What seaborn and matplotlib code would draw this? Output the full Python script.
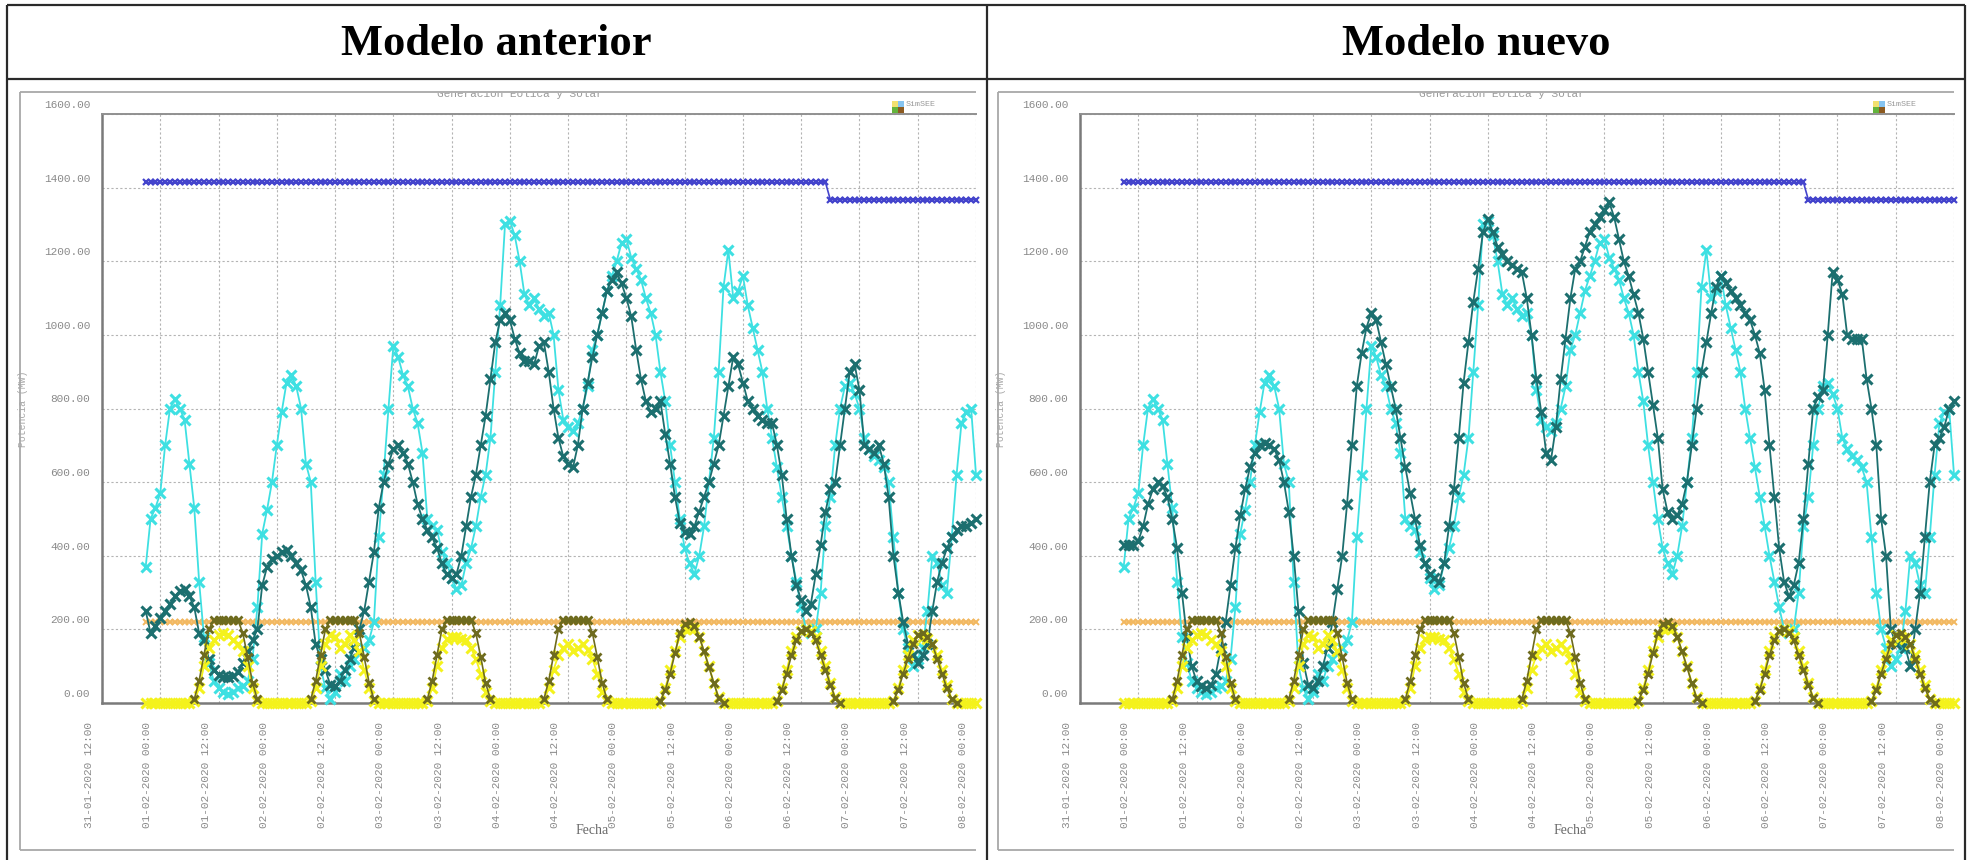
import matplotlib
matplotlib.use("Agg")
import matplotlib.pyplot as plt
import matplotlib.transforms as mtransforms
from matplotlib.patches import Rectangle
from matplotlib.lines import Line2D
import numpy as np
import pandas as pd
import seaborn as sns

# ---------------------------------------------------------------- data
# hourly values, 31-01-2020 21:00 .. 08-02-2020 00:00 (MW)
wind_real = [
    370, 500, 530, 570, 700, 800, 825, 800, 770, 650,
    530, 330, 180, 110, 60, 40, 30, 25, 30, 40, 45, 60, 120, 260, 460, 525, 600, 700, 790, 870, 890, 860, 800, 650,
    600, 330, 100, 40, 10, 30, 80, 60, 100, 120, 140, 150, 170, 220, 450, 620, 800, 970, 940, 890, 860, 800, 760, 680,
    500, 480, 470, 410, 380, 340, 310, 320, 380, 420, 480, 560, 620, 720, 900, 1080, 1300, 1310, 1270, 1200, 1110, 1080, 1100, 1070,
    1050, 1060, 1000, 850, 770, 750, 740, 760, 800, 860, 960, 1000, 1060, 1120, 1160, 1200, 1250, 1260, 1210, 1180, 1150, 1100, 1060, 1000,
    900, 820, 700, 600, 500, 420, 380, 350, 400, 480, 600, 720, 900, 1130, 1230, 1100, 1120, 1160, 1080, 1020, 960, 900, 800, 720,
    640, 560, 480, 400, 330, 260, 200, 190, 200, 300, 480, 560, 700, 800, 860, 870, 840, 800, 720, 690, 670, 660, 640, 600,
    450, 300, 200, 150, 100, 120, 150, 250, 400, 380, 320, 300, 450, 620, 760, 790, 800, 620,
]

wind_prev_model = [
    250, 190, 210, 230, 250, 270, 290, 305, 310, 290,
    260, 190, 170, 120, 90, 75, 70, 70, 72, 85, 110, 140, 170, 200, 320, 370, 390, 400, 410, 415, 400, 380, 360, 320,
    260, 160, 120, 90, 50, 45, 60, 90, 120, 150, 200, 250, 330, 410, 530, 600, 650, 690, 700, 680, 650, 600, 540, 500,
    470, 450, 420, 380, 350, 340, 350, 400, 480, 560, 620, 700, 780, 880, 980, 1040, 1060, 1040, 990, 950, 930, 930, 920, 970,
    980, 900, 800, 720, 670, 650, 640, 700, 800, 870, 940, 1000, 1060, 1120, 1150, 1170, 1140, 1100, 1050, 960, 880, 820, 790, 800,
    820, 730, 650, 560, 490, 465, 460, 480, 520, 560, 600, 650, 700, 780, 860, 940, 920, 870, 820, 800, 780, 770, 760, 760,
    700, 620, 500, 400, 320, 280, 250, 270, 350, 430, 520, 580, 600, 700, 800, 900, 920, 850, 700, 690, 680, 700, 650, 560,
    400, 300, 220, 160, 130, 110, 130, 160, 250, 330, 380, 420, 450, 470, 480, 480, 490, 500,
]

wind_new_model = [
    430, 430, 430, 440, 480, 540, 580, 600, 590, 560,
    500, 420, 300, 180, 100, 60, 45, 40, 50, 80, 150, 220, 320, 420, 510, 580, 640, 680, 700, 705, 700, 690, 660, 600,
    520, 400, 250, 110, 50, 40, 60, 100, 150, 220, 310, 400, 540, 700, 860, 950, 1020, 1060, 1040, 980, 920, 860, 800, 720,
    640, 570, 500, 430, 380, 350, 340, 330, 380, 480, 580, 720, 870, 980, 1090, 1180, 1280, 1315, 1280, 1240, 1220, 1200, 1190, 1180,
    1170, 1100, 1000, 880, 790, 680, 660, 750, 880, 990, 1100, 1180, 1200, 1240, 1280, 1300, 1320, 1340, 1360, 1320, 1260, 1200, 1160, 1110,
    1060, 990, 900, 810, 720, 580, 520, 500, 510, 540, 600, 700, 800, 900, 980, 1060, 1130, 1160, 1140, 1120, 1100, 1080, 1060, 1040,
    1000, 950, 850, 700, 560, 420, 330, 290, 320, 380, 500, 650, 800, 830, 850, 1000, 1170, 1150, 1110, 1000, 990, 990, 990, 880,
    800, 700, 500, 400, 200, 160, 170, 150, 100, 200, 300, 450, 600, 700, 720, 750, 800, 820,
]

solar_real = [
    0, 0, 0, 0, 0, 0, 0, 0, 0, 0,
    5, 40, 100, 150, 170, 185, 190, 185, 170, 160, 140, 100, 40, 5, 0, 0, 0, 0, 0, 0, 0, 0, 0, 0,
    5, 40, 100, 160, 185, 180, 150, 160, 185, 170, 140, 90, 40, 5, 0, 0, 0, 0, 0, 0, 0, 0, 0, 0,
    5, 40, 100, 150, 175, 180, 180, 175, 170, 150, 120, 80, 30, 5, 0, 0, 0, 0, 0, 0, 0, 0, 0, 0,
    5, 40, 90, 130, 150, 160, 140, 150, 160, 145, 120, 80, 30, 5, 0, 0, 0, 0, 0, 0, 0, 0, 0, 0,
    5, 40, 90, 140, 180, 200, 205, 200, 180, 140, 100, 55, 15, 0, 0, 0, 0, 0, 0, 0, 0, 0, 0, 0,
    5, 40, 90, 140, 180, 195, 200, 195, 180, 140, 100, 55, 15, 0, 0, 0, 0, 0, 0, 0, 0, 0, 0, 0,
    5, 40, 90, 130, 170, 185, 180, 175, 160, 130, 90, 50, 10, 0, 0, 0, 0, 0,
]

# modelled solar output is only reported during daylight hours (None = no value)
N = None
solar_model = [
    N, N, N, N, N, N, N, N, N, N,
    10, 60, 130, 200, 225, 225, 225, 225, 225, 225, 190, 125, 55, 10, N, N, N, N, N, N, N, N, N, N,
    10, 60, 130, 200, 225, 225, 225, 225, 225, 225, 190, 125, 55, 10, N, N, N, N, N, N, N, N, N, N,
    10, 60, 130, 200, 225, 225, 225, 225, 225, 225, 190, 125, 55, 10, N, N, N, N, N, N, N, N, N, N,
    10, 60, 130, 200, 225, 225, 225, 225, 225, 225, 190, 125, 55, 10, N, N, N, N, N, N, N, N, N, N,
    5, 35, 80, 135, 190, 215, 220, 210, 180, 140, 98, 54, 14, 0, N, N, N, N, N, N, N, N, N, N,
    5, 35, 80, 130, 170, 195, 200, 190, 170, 130, 90, 50, 14, 0, N, N, N, N, N, N, N, N, N, N,
    5, 35, 80, 120, 160, 185, 190, 180, 160, 120, 80, 40, 10, 0, N, N, N, N,
]

# installed wind capacity (drops on 06-02) and solar capacity
wind_capacity = [1414] * 141 + [1367] * 31
solar_capacity = [220] * 172

panel_titles = ["Modelo anterior", "Modelo nuevo"]
chart_title = "Generacion Eolica y Solar"
legend_text = "SimSEE"
y_label = "Potencia (MW)"
x_label = "Fecha"
y_ticks = [0, 200, 400, 600, 800, 1000, 1200, 1400, 1600]
x_start, x_end = "2020-01-31 12:00", "2020-02-08 00:00"

times = pd.date_range("2020-01-31 21:00", periods=len(wind_real), freq="h")
x_ticks = pd.date_range(x_start, x_end, freq="12h")

# ---------------------------------------------------------------- styling
sns.set_theme(style="white")
plt.rcParams["font.family"] = ["DejaVu Sans"]

W, H = 1970, 860
fig = plt.figure(figsize=(W / 100, H / 100), dpi=100)
fig.patch.set_facecolor("white")


def fx(px):
    return px / W


def fy(py):
    return 1 - py / H


def fig_line(x0, y0, x1, y1, color, lw, z=5):
    fig.add_artist(Line2D([fx(x0), fx(x1)], [fy(y0), fy(y1)],
                          transform=fig.transFigure, color=color, lw=lw,
                          zorder=z, solid_capstyle="butt"))


def as_frame(values):
    """Long table with one 'run' id per stretch of consecutive valid values."""
    df = pd.DataFrame({"time": times, "value": pd.Series(values, dtype=float)})
    gap = df["value"].isna()
    df["run"] = gap.cumsum()
    return df[~gap]


# table grid around the two panels
TC = "#2a2a2a"
fig_line(7, 5, 1965, 5, TC, 1.6)
fig_line(7, 79, 1965, 79, TC, 1.6)
fig_line(7, 5, 7, 860, TC, 1.6)
fig_line(987, 5, 987, 860, TC, 1.6)
fig_line(1965, 5, 1965, 860, TC, 1.6)

mono = ["Liberation Mono", "DejaVu Sans Mono"]
serif = ["Liberation Serif", "DejaVu Serif"]
GRAY_TXT = "#8a8a8a"

series_styles = [
    # key, color, markersize, mew, lw, zorder
    ("cap_w", "#4444cc", 4.5, 1.6, 1.2, 3),
    ("cap_s", "#f2b860", 4.0, 1.4, 1.2, 3),
    ("w_real", "#3ee0e2", 7.0, 2.2, 1.3, 4),
    ("w_model", "#1c6f6f", 7.0, 2.2, 1.3, 5),
    ("s_real", "#f4f21c", 7.0, 2.2, 1.3, 6),
    ("s_model", "#6e6b1e", 6.0, 2.0, 1.2, 7),
]

panels = [
    dict(frame_l=20, plot_l=102, plot_r=976, head_x=496, title_x=520,
         leg_x=892, model=wind_prev_model),
    dict(frame_l=998, plot_l=1080, plot_r=1954, head_x=1476, title_x=1502,
         leg_x=1873, model=wind_new_model),
]

PT, PB = 114, 703
for title, p in zip(panel_titles, panels):
    fig.text(fx(p["head_x"]), fy(44), title, ha="center", va="center",
             family=serif, weight="bold", size=32, color="black")

    # light frame of the chart image
    FC = "#a8a8a8"
    fig_line(p["frame_l"], 92, p["plot_r"], 92, FC, 1.3, z=1)
    fig_line(p["frame_l"], 92, p["frame_l"], 850, FC, 1.3, z=1)
    fig_line(p["frame_l"], 850, p["plot_r"], 850, FC, 1.3, z=1)

    ax = fig.add_axes([fx(p["plot_l"]), fy(PB), (p["plot_r"] - p["plot_l"]) / W, (PB - PT) / H])
    ax.set_facecolor("white")

    values = {
        "cap_w": wind_capacity, "cap_s": solar_capacity, "w_real": wind_real,
        "w_model": p["model"], "s_real": solar_real, "s_model": solar_model,
    }
    for key, color, ms, mew, lw, z in series_styles:
        df = as_frame(values[key])
        sns.lineplot(data=df, x="time", y="value", units="run", estimator=None,
                     ax=ax, color=color, marker="x",
                     markersize=ms, markeredgewidth=mew, markeredgecolor=color,
                     linewidth=lw, legend=False, clip_on=False, zorder=z)

    ax.set_xlim(pd.Timestamp(x_start), pd.Timestamp(x_end))
    ax.set_ylim(0, 1600)
    ax.set_xticks(x_ticks)
    ax.set_xticklabels([t.strftime("%d-%m-%Y %H:%M") for t in x_ticks],
                       rotation=90, family=mono, size=8, color=GRAY_TXT)
    ax.set_yticks(y_ticks)
    ax.set_yticklabels([f"{v:.2f}" for v in y_ticks], family=mono, size=8, color=GRAY_TXT)
    ax.tick_params(axis="x", length=0, pad=13.5)
    ax.tick_params(axis="y", length=0, pad=8.5)

    ax.set_axisbelow(True)
    ax.grid(True, linestyle=(0, (2, 2)), color="#b4b4b4", lw=0.8)

    for side in ("left", "bottom"):
        ax.spines[side].set_color("#7a7a7a")
        ax.spines[side].set_linewidth(1.8)
    ax.spines["top"].set_color("#909090")
    ax.spines["top"].set_linewidth(1.4)
    ax.spines["right"].set_visible(False)

    ax.set_xlabel(x_label, family=serif, size=10, color="#6a6a6a")
    ax.xaxis.set_label_coords((592 - 102) / 874, (PB - 831) / (PB - PT))
    ax.xaxis.label.set_va("center")
    ax.set_ylabel(y_label, family=mono, size=7, color="#a8a8a8")
    ax.yaxis.set_label_coords((p["frame_l"] + 3 - p["plot_l"]) / 874, 0.5)
    ax.yaxis.label.set_va("center")

    # tick labels sit slightly off their grid lines
    shift_x = mtransforms.ScaledTranslation(-0.13, 0, fig.dpi_scale_trans)
    shift_y = mtransforms.ScaledTranslation(0, 0.10, fig.dpi_scale_trans)
    for lab in ax.get_xticklabels():
        lab.set_transform(lab.get_transform() + shift_x)
    for lab in ax.get_yticklabels():
        lab.set_transform(lab.get_transform() + shift_y)

    # chart title, half hidden under the frame line
    clip = mtransforms.TransformedBbox(
        mtransforms.Bbox([[fx(p["frame_l"]), fy(850)], [fx(p["plot_r"]), fy(93)]]),
        fig.transFigure)
    t = fig.text(fx(p["title_x"]), fy(97), chart_title, ha="center", va="baseline",
                 family=mono, size=8, color="#9a9a9a")
    t.set_clip_box(clip)
    t.set_clip_on(True)

    # small legend swatches
    lx = p["leg_x"]
    for dx, dy, c in [(0, 0, "#f2e070"), (6, 0, "#86c4f0"), (0, 6, "#64b43c"), (6, 6, "#8c5a20")]:
        fig.add_artist(Rectangle((fx(lx + dx), fy(101 + dy + 6)), 6 / W, 6 / H,
                                 transform=fig.transFigure, color=c, lw=0))
    fig.text(fx(lx + 14), fy(104), legend_text, ha="left", va="center",
             family=mono, size=6, color="#9a9a9a")

fig.savefig("out.png", dpi=100, facecolor="white")
